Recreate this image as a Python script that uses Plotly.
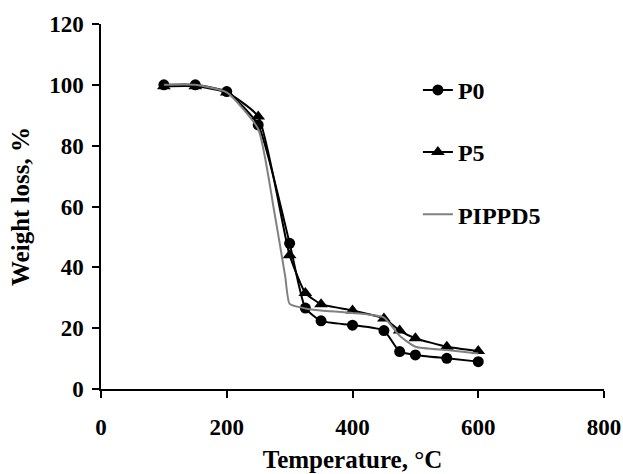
import plotly.graph_objects as go

# temperatures, degC
temp = [100, 150, 200, 250, 300, 325, 350, 400, 450, 475, 500, 550, 600]
# weight loss, %
p0 = [100, 100, 97.8, 86.8, 47.9, 26.6, 22.4, 21.0, 19.2, 12.3, 11.2, 10.1, 9.0]
p5 = [99.5, 99.5, 97.5, 89.6, 44.0, 31.6, 27.9, 25.8, 23.2, 19.2, 16.7, 13.9, 12.5]

temp_pippd = [100, 150, 200, 250, 275, 293, 300, 325, 350, 400, 450, 475, 500, 550, 600]
pippd5 = [100, 100, 97.5, 85.5, 59, 37, 28, 26.5, 25.8, 25.0, 23.5, 17.5, 13.9, 12.8, 11.7]

x_ticks = [0, 200, 400, 600, 800]
y_ticks = [0, 20, 40, 60, 80, 100, 120]

font = "Liberation Serif, Times New Roman, serif"
tick_font = dict(family=font, size=23, color="black")
title_font = dict(family=font, size=25, color="black")

fig = go.Figure()
fig.add_trace(go.Scatter(x=temp, y=p0, name="<b>P0</b>", mode="lines+markers",
                         line=dict(color="black", width=2, shape="spline", smoothing=0.5),
                         marker=dict(symbol="circle", size=11, color="black"),
                         legendgroup="a"))
fig.add_trace(go.Scatter(x=temp, y=p5, name="<b>P5</b>", mode="lines+markers",
                         line=dict(color="black", width=2, shape="spline", smoothing=0.5),
                         marker=dict(symbol="triangle-up", size=12, color="black"),
                         legendgroup="b"))
fig.add_trace(go.Scatter(x=temp_pippd, y=pippd5, name="<b>PIPPD5</b>", mode="lines",
                         line=dict(color="#808080", width=2, shape="spline", smoothing=0.5),
                         legendgroup="c"))

fig.update_layout(
    width=623, height=474,
    margin=dict(l=101, r=19, t=24, b=85, autoexpand=False),
    plot_bgcolor="white", paper_bgcolor="white",
    font=dict(family=font, size=23, color="black"),
    showlegend=True,
    legend=dict(x=0.63, y=0.88, xanchor="left", yanchor="top",
                bgcolor="rgba(0,0,0,0)", tracegroupgap=28,
                font=dict(family=font, size=24, color="black")),
    xaxis=dict(range=[0, 800], tickvals=x_ticks,
               ticktext=["<b>%d</b>" % v for v in x_ticks],
               showgrid=False, zeroline=False, automargin=False,
               showline=True, linecolor="black", linewidth=1.5,
               ticks="outside", ticklen=7, tickcolor="black", tickwidth=1.5,
               tickfont=tick_font, ticklabelstandoff=10,
               title=dict(text="<b>Temperature, °C</b>", standoff=11, font=title_font)),
    yaxis=dict(range=[0, 120], tickvals=y_ticks,
               ticktext=["<b>%d</b>" % v for v in y_ticks],
               showgrid=False, zeroline=False, automargin=False,
               showline=True, linecolor="black", linewidth=1.5,
               ticks="outside", ticklen=7, tickcolor="black", tickwidth=1.5,
               tickfont=tick_font, ticklabelstandoff=4,
               title=dict(text="<b>Weight loss, %</b>", standoff=12, font=title_font)),
)

fig.write_html("out.html", config={"displayModeBar": False},
               post_script="document.body.style.margin='0';")
